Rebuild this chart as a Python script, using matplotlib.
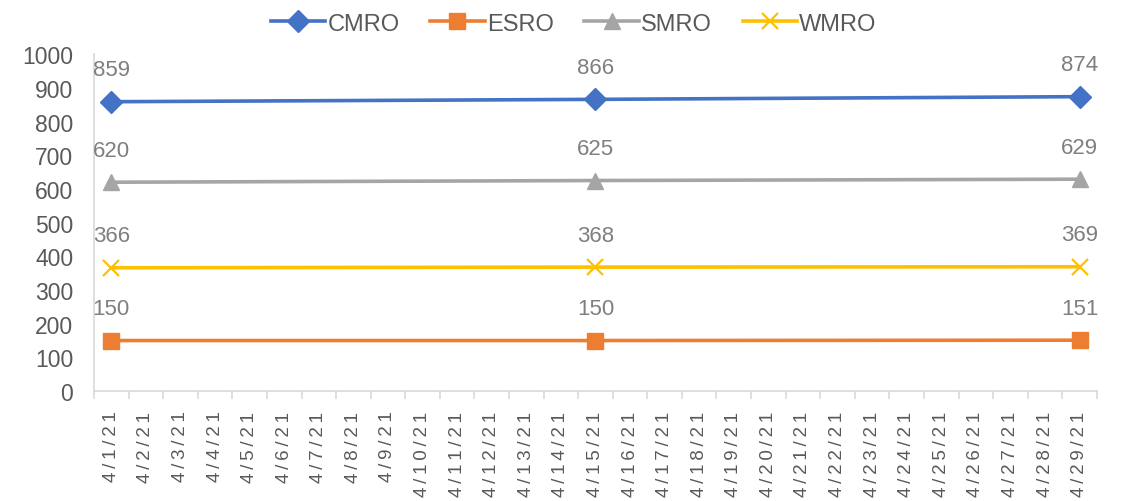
import matplotlib
matplotlib.use("Agg")
import matplotlib.pyplot as plt
from matplotlib.ticker import FixedLocator

plt.rcParams['font.family'] = ['Liberation Sans', 'DejaVu Sans']

# category axis: every day of April 2021 up to the 29th
days = [f"4/{d}/21" for d in range(1, 30)]
point_days = ["4/1/21", "4/15/21", "4/29/21"]

cmro = [859, 866, 874]
esro = [150, 150, 151]
smro = [620, 625, 629]
wmro = [366, 368, 369]

series = [
    ("CMRO", cmro, "#4472C4", "D", 11.5),
    ("ESRO", esro, "#ED7D31", "s", 12),
    ("SMRO", smro, "#A5A5A5", "^", 12),
    ("WMRO", wmro, "#FFC000", "x", 11),
]

fig = plt.figure(figsize=(11.25, 5.02), dpi=100)
ax = fig.add_axes([0.0836, 0.219, 0.8914, 0.671])

xpos = [days.index(d) for d in point_days]
for name, vals, col, mk, ms in series:
    ax.plot(xpos, vals, color=col, lw=2.6, marker=mk, markersize=ms,
            markeredgewidth=1.6 if mk == "x" else 1, label=name, zorder=3)
    for x, v in zip(xpos, vals):
        ax.annotate(str(v), (x, v), xytext=(0, 19), textcoords="offset points",
                    ha="center", va="baseline", fontsize=16, color="#7F7F7F")

ax.set_xlim(-0.5, len(days) - 0.5)
ax.set_ylim(0, 1000)
ax.set_yticks(range(0, 1001, 100))
ax.tick_params(axis="y", length=0, labelsize=16.5, labelcolor="#595959", pad=15)

# Excel spreads the date labels out a little; thin spaces imitate that
spaced = ["\u2009".join(d) for d in days]
ax.set_xticks(range(len(days)))
ax.set_xticklabels(spaced, rotation=90, fontsize=13.5, color="#595959")
ax.xaxis.set_minor_locator(FixedLocator([i - 0.5 for i in range(len(days) + 1)]))
ax.tick_params(axis="x", which="major", length=0, pad=14)
ax.tick_params(axis="x", which="minor", length=6, color="#D9D9D9", width=1.2)

for s in ["top", "right"]:
    ax.spines[s].set_visible(False)
for s in ["left", "bottom"]:
    ax.spines[s].set_color("#D9D9D9")
    ax.spines[s].set_linewidth(1.2)

fig.legend(loc="upper center", bbox_to_anchor=(0.51, 1.015), ncol=4, frameon=False,
           fontsize=17, labelcolor="#595959", handlelength=2.3, columnspacing=1.3,
           handletextpad=0.1)

fig.savefig("out.png", dpi=100)
